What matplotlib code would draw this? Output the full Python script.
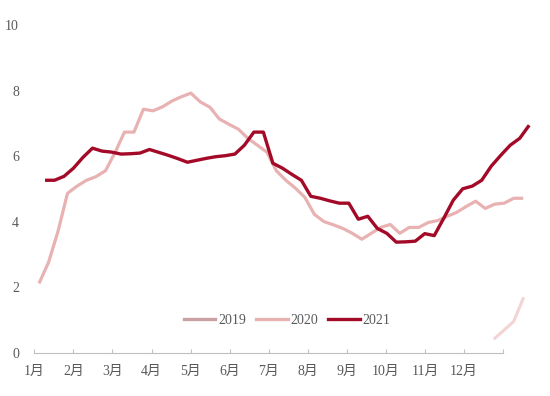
import matplotlib
matplotlib.use('Agg')
import matplotlib.pyplot as plt
from matplotlib.lines import Line2D
import numpy as np

months = ['1月', '2月', '3月', '4月', '5月', '6月', '7月', '8月', '9月', '10月', '11月', '12月']
series_names = ['2019', '2020', '2021']

values_2021 = [5.26, 5.26, 5.38, 5.63, 5.96, 6.24, 6.15, 6.12, 6.06, 6.07,
               6.09, 6.2, 6.11, 6.02, 5.92, 5.81, 5.87, 5.93, 5.98, 6.01,
               6.06, 6.33, 6.73, 6.73, 5.78, 5.63, 5.44, 5.26, 4.77, 4.71,
               4.63, 4.56, 4.56, 4.07, 4.16, 3.79, 3.64, 3.37, 3.38, 3.4,
               3.63, 3.57, 4.1, 4.65, 5.0, 5.08, 5.26, 5.69, 6.02, 6.33,
               6.54, 6.94]
values_2020 = [2.11, 2.75, 3.7, 4.86, 5.08, 5.26, 5.37, 5.55, 6.1, 6.73,
               6.73, 7.43, 7.38, 7.5, 7.68, 7.81, 7.92, 7.65, 7.49, 7.13,
               6.97, 6.82, 6.54, 6.33, 6.12, 5.55, 5.26, 5.02, 4.74, 4.22,
               4.0, 3.9, 3.79, 3.64, 3.46, 3.64, 3.82, 3.91, 3.64, 3.82,
               3.82, 3.97, 4.03, 4.16, 4.28, 4.46, 4.62, 4.4, 4.53, 4.56,
               4.71, 4.71]
values_2019 = [np.nan] * 48 + [0.43, 0.69, 0.95, 1.65]

# weekly positions on a month axis
week_step = 0.243
start_2021 = 0.274
start_2020 = 0.12
x21 = start_2021 + week_step * np.arange(len(values_2021))
x20 = start_2020 + week_step * np.arange(len(values_2020))
x19 = start_2020 + week_step * np.arange(len(values_2019))

c2019_legend = '#c9a1a3'
c2019_line = '#f3d3d3'
c2020 = '#e8b2b2'
c2021 = '#a30a28'
txt = '#595959'

plt.rcParams['font.family'] = ['Liberation Serif', 'Noto Sans CJK SC']
fig = plt.figure(figsize=(5.5, 3.96), dpi=100)
ax = fig.add_axes([0.0624, 0.1098, 0.9085, 0.827])

ax.plot(x19, values_2019, color=c2019_line, lw=2.2, solid_joinstyle='round', solid_capstyle='round')
ax.plot(x20, values_2020, color=c2020, lw=2.3, solid_joinstyle='round', solid_capstyle='butt')
ax.plot(x21, values_2021, color=c2021, lw=2.4, solid_joinstyle='round', solid_capstyle='butt')

ax.set_xlim(0, 12.79)
ax.set_ylim(0, 10)
ax.set_yticks([0, 2, 4, 6, 8, 10])
ax.set_xticks(range(13))
ax.set_xticklabels(months + [''])

for s in ['top', 'right', 'left']:
    ax.spines[s].set_visible(False)
ax.spines['bottom'].set_bounds(0, 12)
ax.spines['bottom'].set_color('#c0c0c0')
ax.spines['bottom'].set_linewidth(0.8)

ax.tick_params(axis='x', direction='in', length=3, color='#c0c0c0', width=0.8,
               labelsize=10, labelcolor=txt, pad=9)
ax.tick_params(axis='y', length=0, labelsize=10, labelcolor=txt, pad=11)

handles = [Line2D([], [], color=c2019_legend, lw=2.4),
           Line2D([], [], color=c2020, lw=2.4),
           Line2D([], [], color=c2021, lw=2.4)]
leg = fig.legend(handles, series_names, loc='center', bbox_to_anchor=(0.522, 0.19),
                 ncol=3, frameon=False, fontsize=10, handlelength=2.3,
                 handletextpad=0.2, columnspacing=0.7)
for t in leg.get_texts():
    t.set_color(txt)

fig.savefig('out.png', dpi=100, facecolor='white')
